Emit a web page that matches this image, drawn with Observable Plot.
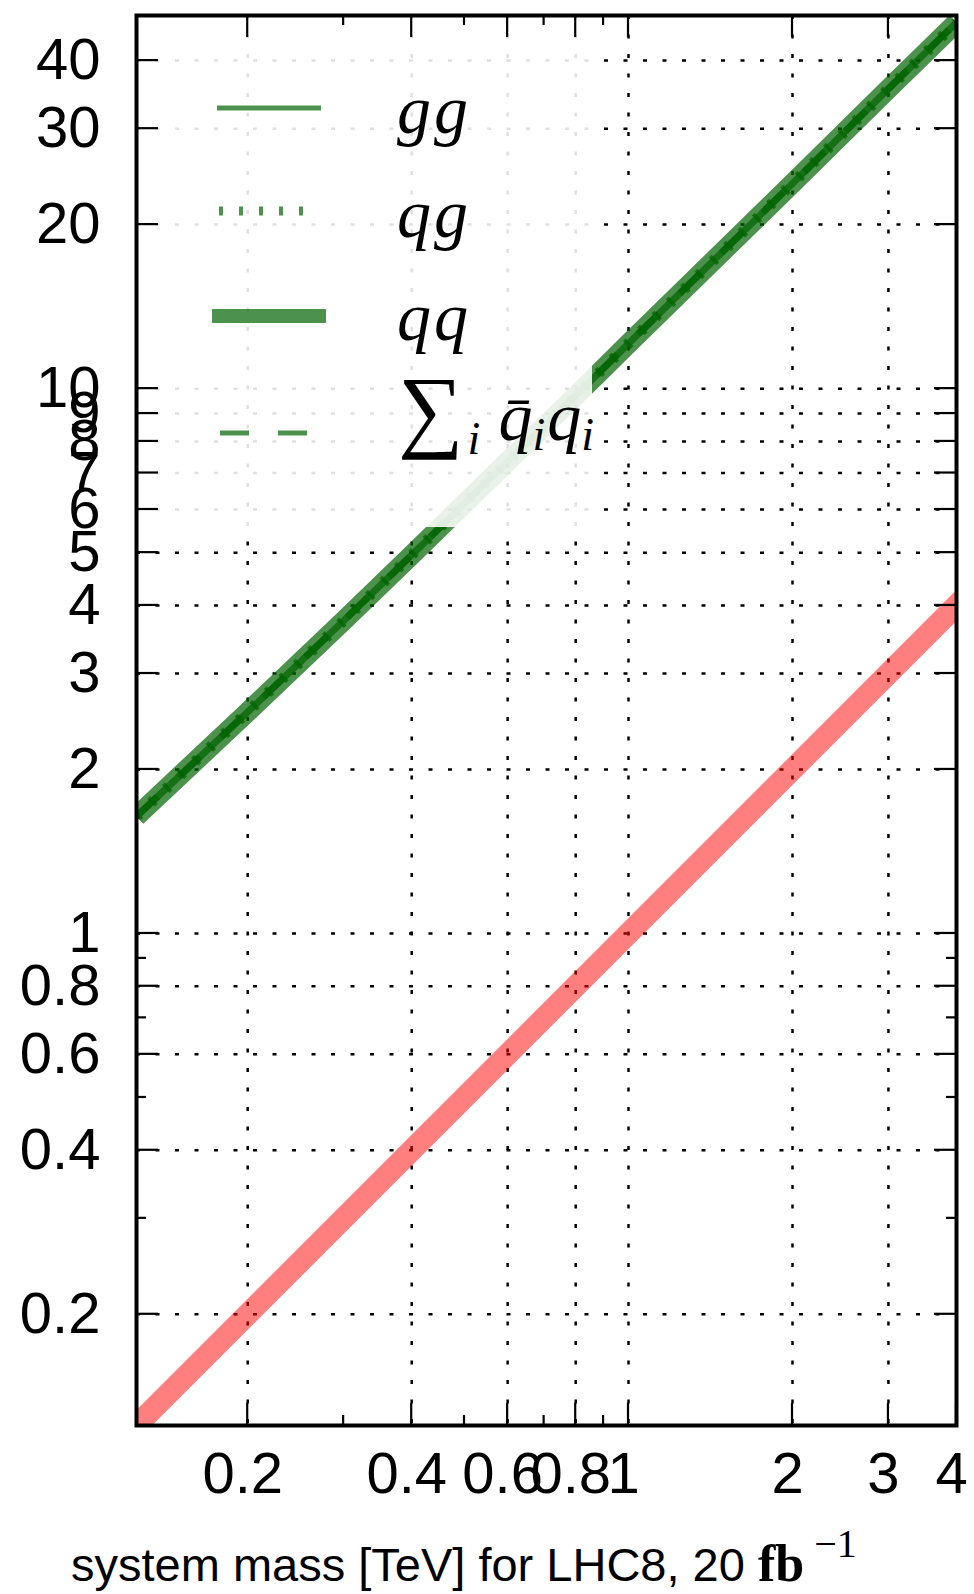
<!DOCTYPE html>
<html>
<head>
<meta charset="utf-8">
<script src="https://cdn.jsdelivr.net/npm/d3@7"></script>
<script src="https://cdn.jsdelivr.net/npm/@observablehq/plot@0.6"></script>
<style>
  html, body { margin: 0; padding: 0; background: #fff; }
  #chart svg { display: block; }
</style>
</head>
<body>
<div id="chart"></div>
<script>
// ---- data ----
const massTeV   = [0.125, 0.2, 0.3, 0.4, 0.6, 0.8, 1, 2, 3, 4];
const gg        = [1.64, 2.55, 3.75, 4.95, 7.35, 9.7, 12.1, 23.8, 35.5, 47];
const qg        = [1.64, 2.55, 3.75, 4.95, 7.35, 9.7, 12.1, 23.8, 35.5, 47];
const qq        = [1.64, 2.55, 3.75, 4.95, 7.35, 9.7, 12.1, 23.8, 35.5, 47];
const qbarqSum  = [1.64, 2.55, 3.75, 4.95, 7.35, 9.7, 12.1, 23.8, 35.5, 47];
const refMass   = [0.12, 0.2, 0.4, 1, 2, 4.1];
const refValue  = [0.12, 0.2, 0.4, 1, 2, 4.1];

const legendLabels = ["gg", "qg", "qq", "sum"];

const xMajorTicks = [0.2, 0.4, 0.6, 0.8, 1, 2, 3, 4];
const xMinorTicks = [0.3, 0.5, 0.7, 0.9];
const xGridTicks  = [0.2, 0.4, 0.6, 0.8, 1, 2, 3];
const yMajorTicks = [0.2, 0.4, 0.6, 0.8, 1, 2, 3, 4, 5, 6, 7, 8, 9, 10, 20, 30, 40];
const yMinorTicks = [0.3, 0.5, 0.7, 0.9];
const yGridTicks  = [0.2, 0.4, 0.6, 0.8, 1, 2, 3, 4, 5, 6, 7, 8, 9, 10, 20, 30, 40];

// ---- tables built from the arrays ----
const rows = (ys) => massTeV.map((m, i) => ({mass: m, value: ys[i]}));
const refRows = refMass.map((m, i) => ({mass: m, value: refValue[i]}));

const GREEN = "#006400";
const GRID = {stroke: "black", strokeOpacity: 1, strokeWidth: 2.5, strokeDasharray: "4,15.5"};
const SERIF = "'Liberation Serif', 'DejaVu Serif', serif";

// ticks pointing inward on all four sides, placed with the plot's scales
function ticksMark(index, {x, y}, values, dims) {
  const g = d3.create("svg:g").attr("stroke", "black").attr("stroke-width", 2.2);
  const L = dims.marginLeft, R = dims.width - dims.marginRight;
  const T = dims.marginTop, B = dims.height - dims.marginBottom;
  const major = 22, minor = 10;
  for (const [ticks, len] of [[xMajorTicks, major], [xMinorTicks, minor]]) {
    for (const t of ticks) {
      const px = x(t);
      g.append("line").attr("x1", px).attr("x2", px).attr("y1", B).attr("y2", B - len);
      g.append("line").attr("x1", px).attr("x2", px).attr("y1", T).attr("y2", T + len);
    }
  }
  for (const [ticks, len] of [[yMajorTicks, major], [yMinorTicks, minor]]) {
    for (const t of ticks) {
      const py = y(t);
      g.append("line").attr("y1", py).attr("y2", py).attr("x1", L).attr("x2", L + len);
      g.append("line").attr("y1", py).attr("y2", py).attr("x1", R).attr("x2", R - len);
    }
  }
  return g.node();
}

// legend box (semi-transparent white) with samples and math labels
function legendMark(index, scales, values, dims) {
  const g = d3.create("svg:g").attr("text-anchor", "start");
  const L = dims.marginLeft, T = dims.marginTop;
  g.append("rect").attr("x", L).attr("y", T).attr("width", 592 - L).attr("height", 527 - T)
    .attr("fill", "white").attr("fill-opacity", 0.88);
  const samples = [
    {y: 108, x1: 217, x2: 321, w: 5, dash: null},
    {y: 211, x1: 219, x2: 319, w: 9, dash: "4,16"},
    {y: 316, x1: 212, x2: 326, w: 14, dash: null},
    {y: 433, x1: 220, x2: 308, w: 5, dash: "29,29"}
  ];
  samples.forEach(s => {
    g.append("line").attr("x1", s.x1).attr("x2", s.x2).attr("y1", s.y).attr("y2", s.y)
      .attr("stroke", GREEN).attr("stroke-opacity", 0.7).attr("stroke-width", s.w)
      .attr("stroke-dasharray", s.dash);
  });
  const baselines = [133, 237, 340];
  legendLabels.slice(0, 3).forEach((lab, i) => {
    g.append("text").attr("x", 397).attr("y", baselines[i])
      .attr("font-family", SERIF).attr("font-style", "italic").attr("font-size", 68)
      .attr("letter-spacing", 3)
      .attr("fill", "black").text(lab);
  });
  const t = g.append("text").attr("x", 398).attr("y", 440).attr("font-family", SERIF)
    .attr("fill", "black").attr("font-size", 68);
  t.append("tspan").attr("font-size", 92).text("\u2211");
  t.append("tspan").attr("font-style", "italic").attr("font-size", 46).attr("dx", 4).attr("dy", 14).text("i");
  t.append("tspan").attr("font-style", "italic").attr("dx", 18).attr("dy", -14).text("q\u0304");
  t.append("tspan").attr("font-style", "italic").attr("font-size", 46).attr("dy", 10).text("i");
  t.append("tspan").attr("font-style", "italic").attr("dx", 2).attr("dy", -10).text("q");
  t.append("tspan").attr("font-style", "italic").attr("font-size", 46).attr("dy", 10).text("i");
  return g.node();
}

// x-axis title with serif "fb" and superscript
function xTitleMark(index, scales, values, dims) {
  const t = d3.create("svg:text").attr("x", 71).attr("y", 1581).attr("text-anchor", "start")
    .attr("font-family", "'Liberation Sans', Arial, sans-serif").attr("font-size", 47).attr("fill", "black");
  t.append("tspan").text("system mass [TeV] for LHC8, 20 ");
  t.append("tspan").attr("font-family", SERIF).attr("font-weight", "bold").attr("font-size", 52).text("fb");
  t.append("tspan").attr("font-family", SERIF).attr("font-size", 40).attr("dx", 10).attr("dy", -24).text("\u22121");
  return t.node();
}

const chart = Plot.plot({
  width: 974,
  height: 1594,
  marginLeft: 136,
  marginRight: 18,
  marginTop: 15,
  marginBottom: 169,
  x: {type: "log", domain: [0.125, 4]},
  y: {type: "log", domain: [0.125, 48.4]},
  style: {fontFamily: "'Liberation Sans', Arial, sans-serif", fontSize: "58px", color: "black", background: "white"},
  marks: [
    Plot.gridX(xGridTicks, GRID),
    Plot.gridY(yGridTicks, GRID),
    Plot.line(refRows, {x: "mass", y: "value", stroke: "red", strokeOpacity: 0.5, strokeWidth: 22, strokeLinecap: "butt", clip: true}),
    Plot.line(rows(qq), {x: "mass", y: "value", stroke: GREEN, strokeOpacity: 0.7, strokeWidth: 20, strokeLinecap: "butt", clip: true}),
    Plot.line(rows(qg), {x: "mass", y: "value", stroke: GREEN, strokeOpacity: 0.7, strokeWidth: 11, strokeDasharray: "4,16", strokeLinecap: "butt", clip: true}),
    Plot.line(rows(gg), {x: "mass", y: "value", stroke: GREEN, strokeOpacity: 0.7, strokeWidth: 7, strokeLinecap: "butt", clip: true}),
    Plot.line(rows(qbarqSum), {x: "mass", y: "value", stroke: GREEN, strokeOpacity: 0.7, strokeWidth: 7, strokeDasharray: "29,29", strokeLinecap: "butt", clip: true}),
    legendMark,
    ticksMark,
    Plot.axisX(xMajorTicks, {anchor: "bottom", tickSize: 0, tickPadding: 26, dx: -5, tickFormat: d => String(d), label: null}),
    Plot.axisY(yMajorTicks, {anchor: "left", tickSize: 0, tickPadding: 36, tickFormat: d => String(d), label: null}),
    Plot.frame({stroke: "black", strokeWidth: 4}),
    xTitleMark
  ]
});
document.getElementById("chart").append(chart);
</script>
</body>
</html>
